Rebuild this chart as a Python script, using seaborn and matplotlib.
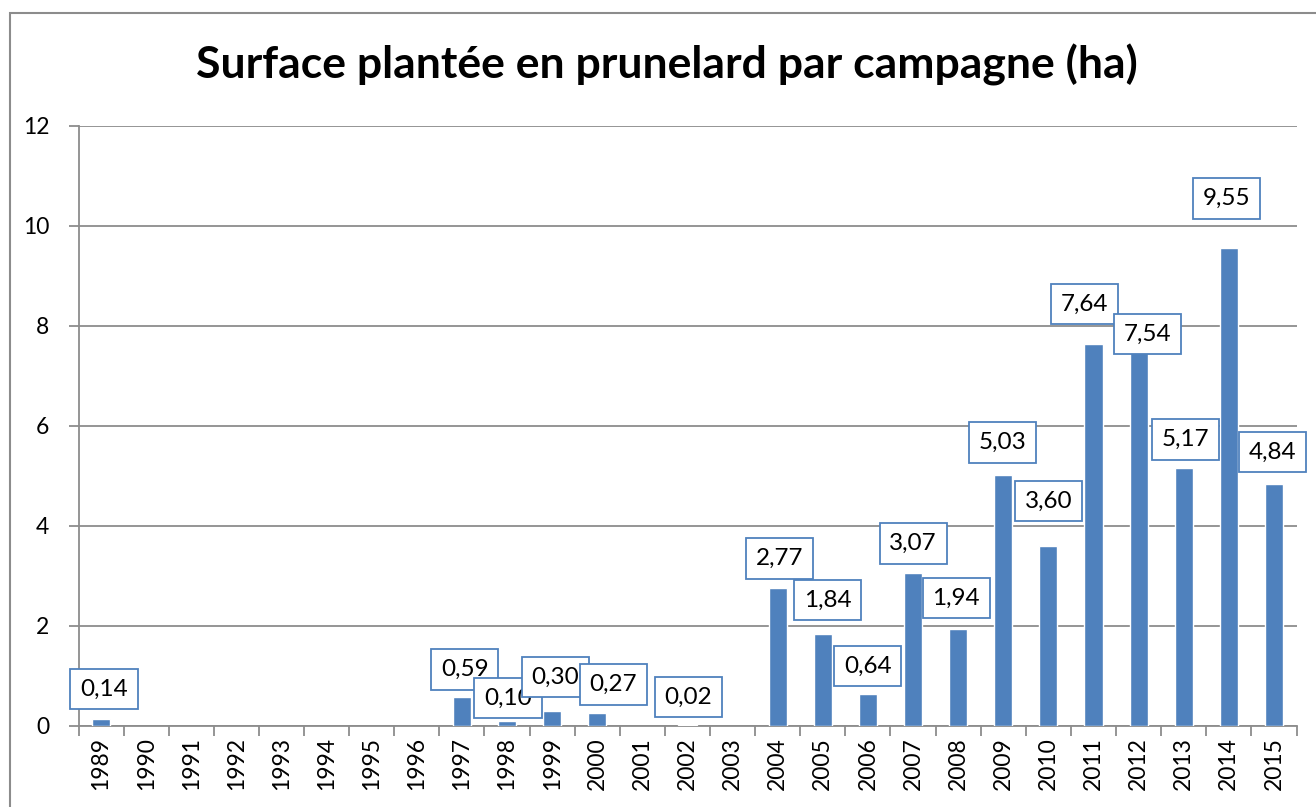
import matplotlib
matplotlib.use("Agg")
import matplotlib.pyplot as plt
import seaborn as sns
import pandas as pd
import numpy as np
from matplotlib.patches import Rectangle

years = [str(y) for y in range(1989, 2016)]
nan = np.nan
values = [0.14, nan, nan, nan, nan, nan, nan, nan, 0.59, 0.10, 0.30, 0.27, nan, 0.02, nan,
          2.77, 1.84, 0.64, 3.07, 1.94, 5.03, 3.60, 7.64, 7.54, 5.17, 9.55, 4.84]
labels = ["0,14", "", "", "", "", "", "", "", "0,59", "0,10", "0,30", "0,27", "", "0,02", "",
          "2,77", "1,84", "0,64", "3,07", "1,94", "5,03", "3,60", "7,64", "7,54", "5,17", "9,55", "4,84"]
# label offsets (pixels, dx, dy upward) relative to bar top
offsets = [(3, 30), None, None, None, None, None, None, None, (3, 27), (1, 23), (3, 34), (16, 28), None, (1, 28), None,
           (2, 29), (5, 34), (0, 28), (0, 29), (-2, 31), (-1, 32), (0, 45), (-9, 40), (9, 15), (2, 28), (-2, 50), (-1, 32)]

sns.set_theme(style="white")
plt.rcParams['font.family'] = ['Lato', 'DejaVu Sans']

fig = plt.figure(figsize=(13.16, 8.07), dpi=100)
ax = fig.add_axes([78.5/1316, 81/807, 1218/1316, 600/807])

df = pd.DataFrame({"year": years, "value": values})
sns.barplot(data=df, x="year", y="value", color="#4F81BD", saturation=1, width=0.4, ax=ax, zorder=3)

ax.set_ylim(0, 12)
ax.set_xlim(-0.5, len(years) - 0.5)
ax.set_yticks(np.arange(0, 13, 2))
ax.yaxis.grid(True, color="#8C8C8C", linewidth=1.3, zorder=0)
ax.set_axisbelow(True)
ax.set_xlabel("")
ax.set_ylabel("")
for s in ["top", "right"]:
    ax.spines[s].set_visible(False)
ax.spines["left"].set_color("#8C8C8C")
ax.spines["bottom"].set_color("#8C8C8C")
ax.spines["left"].set_linewidth(1.3)
ax.spines["bottom"].set_linewidth(1.3)

ax.tick_params(axis="y", which="major", length=7, width=1.3, color="#8C8C8C", labelsize=16.5, pad=14, left=True)
ax.set_xticks(range(len(years)))
ax.set_xticklabels(years, rotation=90)
ax.tick_params(axis="x", which="major", length=0, labelsize=16.5, pad=8)
ax.set_xticks(np.arange(-0.5, len(years), 1), minor=True)
ax.tick_params(axis="x", which="minor", length=7, width=1.3, color="#8C8C8C", bottom=True)
for t in ax.get_yticklabels() + ax.get_xticklabels():
    t.set_color("black")

for i, (v, lab, off) in enumerate(zip(values, labels, offsets)):
    if not lab:
        continue
    ax.annotate(lab, xy=(i, v), xytext=(off[0] * 0.72, off[1] * 0.72), textcoords="offset points",
                ha="center", va="center", fontsize=17.5, color="black", zorder=5,
                bbox=dict(boxstyle="square,pad=0.4", facecolor="white", edgecolor="#4F81BD", linewidth=1.3))

fig.text(667/1316, 1 - 65/807, "Surface plantée en prunelard par campagne (ha)", ha="center", va="center",
         fontsize=32, fontweight="bold", color="black")

fig.patches.append(Rectangle((10/1316, -0.1), 1.2, (807-13)/807 + 0.1, transform=fig.transFigure,
                             fill=False, edgecolor="#8C8C8C", linewidth=1.5, zorder=0))

fig.savefig("out.png", dpi=100)
